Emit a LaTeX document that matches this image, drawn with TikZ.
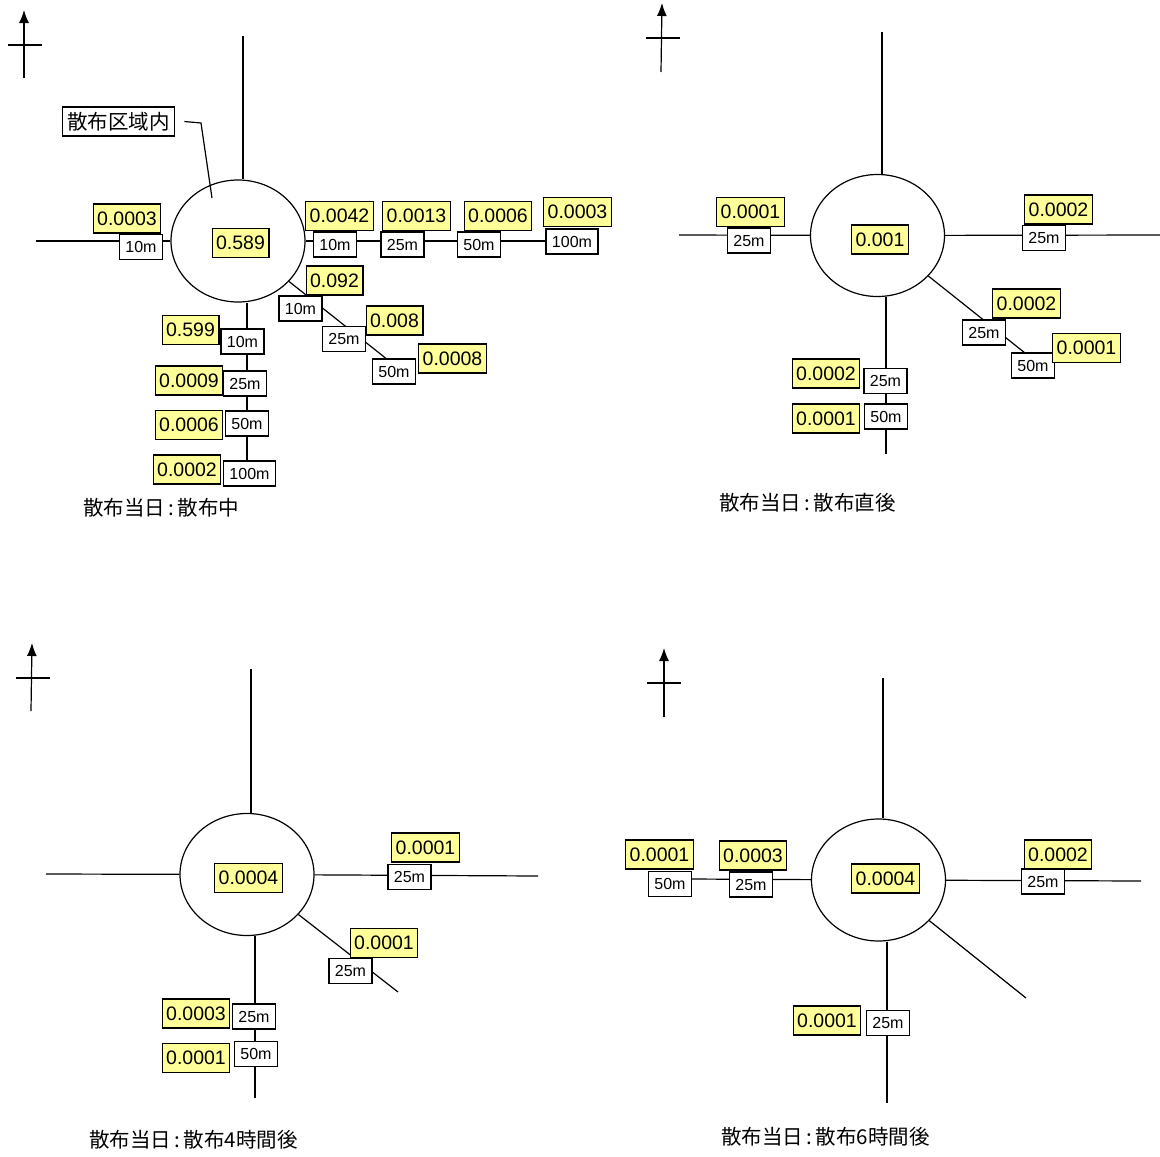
\documentclass[tikz,border=0pt]{standalone}
\usepackage{fontspec}
\setmainfont{Noto Sans CJK JP}
\newfontfamily\cifre{Liberation Sans}
\usepackage{tikz}
\usetikzlibrary{shapes,positioning,calc}
\usetikzlibrary{shapes.geometric}
\usetikzlibrary{arrows.meta}
\definecolor{kiiro}{RGB}{255,255,153}
\tikzstyle{conc} = [rectangle, draw=black, fill=kiiro, line width=1.2pt, minimum height=29pt, inner xsep=4pt, inner ysep=0pt, font=\cifre\fontsize{19.5}{21}\selectfont]
\tikzstyle{dist} = [rectangle, draw=black, fill=white, line width=1.2pt, minimum height=25pt, inner xsep=6pt, inner ysep=0pt, font=\cifre\fontsize{16}{18}\selectfont]
\tikzstyle{zona} = [ellipse, draw=black, line width=1.2pt, minimum width=134pt, minimum height=122pt, inner sep=0pt]
\tikzstyle{titolo} = [anchor=west, inner sep=0pt, font=\fontsize{20.5}{24}\selectfont]
\tikzstyle{nord} = [line width=1.2pt,-{Latex[length=13pt,width=10pt]}]
\tikzstyle{road} = [line width=1.2pt]

\begin{document}
\begin{tikzpicture}[x=1pt,y=-1pt]
						\useasboundingbox (0,0) rectangle (1160,1157);
						% spargimento in corso
						\coordinate (n1a) at (24,78);
						\coordinate (n1b) at (24,10);
						\coordinate (n1c) at (8,45);
						\coordinate (n1d) at (42,45);
						\draw[nord] (n1a) -- (n1b);
						\draw[road] (n1c) -- (n1d);
						\node (c1) at (238,241) [zona] {};
						\coordinate (e1n) at (243,36);
						\coordinate (e1w) at (36,241);
						\coordinate (e1e) at (550,241);
						\coordinate (e1d) at (388,360);
						\coordinate (e1s) at (247,462);
						\draw[road] (e1n) -- (e1n |- c1.north);
						\draw[road] (e1w) -- (c1);
						\draw[road] (c1) -- (e1e);
						\draw[road] (c1) -- (e1d);
						\draw[road] (e1s |- c1.south) -- (e1s);
						\node (z1) at (118.5,121.5) [dist, font=\fontsize{20.5}{22}\selectfont, minimum height=29pt, inner xsep=5pt] {散布区域内};
						\coordinate (k1) at (201,123);
						\coordinate (k2) at (212,198);
						\draw[line width=1.2pt] (z1.east) ++(9,0) -- (k1) -- (k2);
						\node (v1a) at (127,218.5) [conc] {0.0003};
						\node (d1a) at (141,247) [dist] {10m};
						\node (v1o) at (240.5,243) [conc] {0.589};
						\node (d1b) at (335,244.5) [dist] {10m};
						\node (v1b) at (339.5,216) [conc] {0.0042};
						\node (d1c) at (402.5,244.5) [dist] {25m};
						\node (v1c) at (416.5,216) [conc] {0.0013};
						\node (d1d) at (479,244.5) [dist] {50m};
						\node (v1d) at (498,216) [conc] {0.0006};
						\node (d1e) at (572,241.5) [dist] {100m};
						\node (v1e) at (577.5,212) [conc] {0.0003};
						\node (d1f) at (300.5,308.5) [dist] {10m};
						\node (v1f) at (334.5,280.5) [conc] {0.092};
						\node (d1g) at (344,339) [dist] {25m};
						\node (v1g) at (394.5,320.5) [conc] {0.008};
						\node (d1h) at (394,371.5) [dist] {50m};
						\node (v1h) at (452.5,358.5) [conc] {0.0008};
						\node (d1i) at (242.5,341.5) [dist] {10m};
						\node (v1i) at (190.5,330) [conc] {0.599};
						\node (d1j) at (245,383.5) [dist] {25m};
						\node (v1j) at (189,380.5) [conc] {0.0009};
						\node (d1k) at (247,423.5) [dist] {50m};
						\node (v1k) at (189,425) [conc] {0.0006};
						\node (d1l) at (249.5,473.5) [dist] {100m};
						\node (v1l) at (187,469.5) [conc] {0.0002};
						\node (t1) at (83,508) [titolo] {散布当日\,:\,散布中};
						% subito dopo
						\coordinate (n2a) at (661,72);
						\coordinate (n2b) at (662,3);
						\coordinate (n2c) at (646,38);
						\coordinate (n2d) at (680,38);
						\draw[nord] (n2a) -- (n2b);
						\draw[road] (n2c) -- (n2d);
						\node (c2) at (877.5,235.5) [zona] {};
						\coordinate (e2n) at (882,32);
						\coordinate (e2w) at (679,235);
						\coordinate (e2e) at (1160,235);
						\coordinate (e2d) at (1025,353);
						\coordinate (e2s) at (886,454);
						\draw[road] (e2n) -- (e2n |- c2.north);
						\draw[road] (e2w) -- (c2);
						\draw[road] (c2) -- (e2e);
						\draw[road] (c2) -- (e2d);
						\draw[road] (e2s |- c2.south) -- (e2s);
						\node (v2o) at (880,239.5) [conc] {0.001};
						\node (d2a) at (749,240.5) [dist] {25m};
						\node (v2a) at (750.5,212) [conc] {0.0001};
						\node (d2b) at (1044,238) [dist] {25m};
						\node (v2b) at (1058.5,209.5) [conc] {0.0002};
						\node (d2c) at (984,332.5) [dist] {25m};
						\node (v2c) at (1026.5,303.5) [conc] {0.0002};
						\node (d2d) at (1033,365.5) [dist] {50m};
						\node (v2d) at (1086.5,348) [conc] {0.0001};
						\node (d2e) at (885.5,381) [dist] {25m};
						\node (v2e) at (826,373.5) [conc] {0.0002};
						\node (d2f) at (886,416.5) [dist] {50m};
						\node (v2f) at (826,418.5) [conc] {0.0001};
						\node (t2) at (719,503) [titolo] {散布当日\,:\,散布直後};
						% dopo 4 ore
						\coordinate (n3a) at (31,711);
						\coordinate (n3b) at (32,643);
						\coordinate (n3c) at (16,678);
						\coordinate (n3d) at (50,678);
						\draw[nord] (n3a) -- (n3b);
						\draw[road] (n3c) -- (n3d);
						\node (c3) at (247,874.5) [zona] {};
						\coordinate (e3n) at (251,669);
						\coordinate (e3w) at (46,874);
						\coordinate (e3e) at (538,876);
						\coordinate (e3d) at (398,992);
						\coordinate (e3s) at (255,1098);
						\draw[road] (e3n) -- (e3n |- c3.north);
						\draw[road] (e3w) -- (c3);
						\draw[road] (c3) -- (e3e);
						\draw[road] (c3) -- (e3d);
						\draw[road] (e3s |- c3.south) -- (e3s);
						\node (v3o) at (248.5,878) [conc] {0.0004};
						\node (d3a) at (409.5,877) [dist] {25m};
						\node (v3a) at (425.5,847.5) [conc] {0.0001};
						\node (d3b) at (350.5,971) [dist] {25m};
						\node (v3b) at (384,943) [conc] {0.0001};
						\node (d3c) at (254,1016.5) [dist] {25m};
						\node (v3c) at (196,1013.5) [conc] {0.0003};
						\node (d3d) at (256,1054) [dist] {50m};
						\node (v3d) at (196,1058) [conc] {0.0001};
						\node (t3) at (89,1140) [titolo] {散布当日\,:\,散布4時間後};
						% dopo 6 ore
						\coordinate (n4a) at (664,717);
						\coordinate (n4b) at (664,648);
						\coordinate (n4c) at (647,683);
						\coordinate (n4d) at (681,683);
						\draw[nord] (n4a) -- (n4b);
						\draw[road] (n4c) -- (n4d);
						\node (c4) at (878.5,880) [zona] {};
						\coordinate (e4n) at (883,678);
						\coordinate (e4w) at (690,879);
						\coordinate (e4e) at (1141,881);
						\coordinate (e4d) at (1026,998);
						\coordinate (e4s) at (887,1103);
						\draw[road] (e4n) -- (e4n |- c4.north);
						\draw[road] (e4w) -- (c4);
						\draw[road] (c4) -- (e4e);
						\draw[road] (c4) -- (e4d);
						\draw[road] (e4s |- c4.south) -- (e4s);
						\node (v4o) at (885.5,878.5) [conc] {0.0004};
						\node (d4a) at (670,884) [dist] {50m};
						\node (v4a) at (659.5,854.5) [conc] {0.0001};
						\node (d4b) at (751,884.5) [dist] {25m};
						\node (v4b) at (753,855.5) [conc] {0.0003};
						\node (d4c) at (1043,881.5) [dist] {25m};
						\node (v4c) at (1058,854.5) [conc] {0.0002};
						\node (d4d) at (888,1023) [dist] {25m};
						\node (v4d) at (827,1020.5) [conc] {0.0001};
						\node (t4) at (721,1137) [titolo] {散布当日\,:\,散布6時間後};
					\end{tikzpicture}
\end{document}
